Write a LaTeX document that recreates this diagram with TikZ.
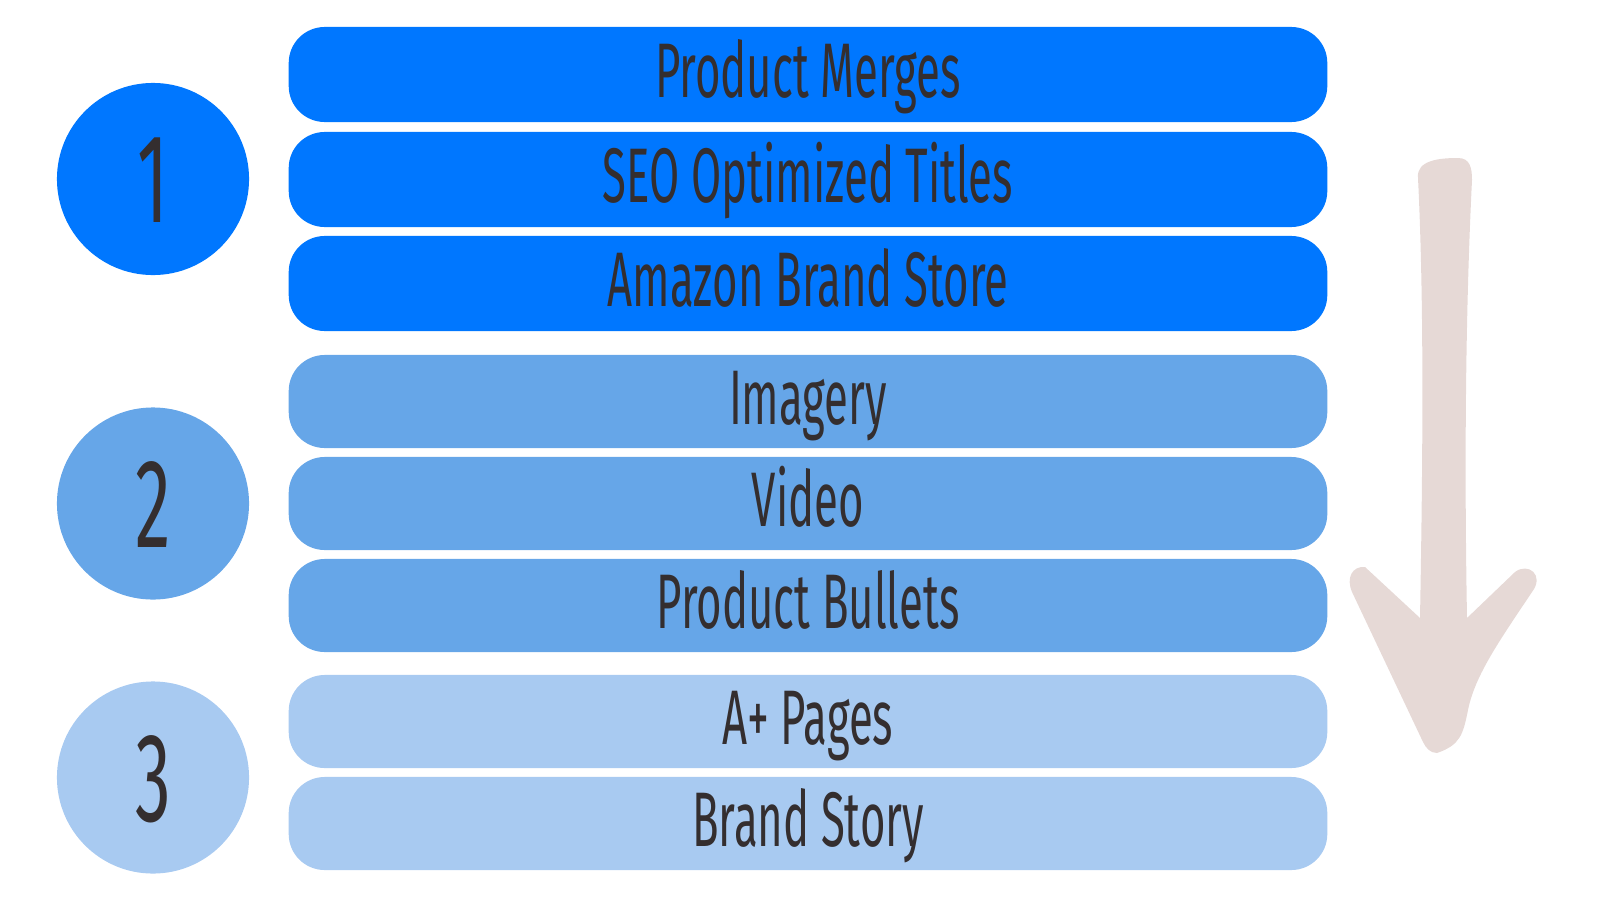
\documentclass[tikz,border=0pt]{standalone}
\usepackage{fontspec}
\setmainfont{Fira Sans}
\usepackage{graphicx}
\definecolor{stageone}{RGB}{0,119,255}
\definecolor{stagetwo}{RGB}{102,166,232}
\definecolor{stagethree}{RGB}{168,202,241}
\definecolor{arrowpink}{RGB}{230,217,214}
\definecolor{ink}{RGB}{52,46,47}
\newcommand{\narrow}[1]{\scalebox{0.565}[1]{#1}}
\begin{document}
\begin{tikzpicture}[x=0.01cm,y=-0.01cm,
    tier/.style={rounded corners=0.36cm,minimum width=10.38cm,minimum height=0.93cm,inner sep=0pt,
        text=ink,font=\fontsize{22}{22}\selectfont,text height=0.53cm,text depth=0.08cm},
    badge/.style={circle,minimum size=1.92cm,inner sep=0pt,text=ink,
        font=\fontsize{36}{36}\selectfont,text height=0.87cm,text depth=0cm}]
    \useasboundingbox (0,0) rectangle (1600,900);
    \node[badge,fill=stageone] (one) at (153,179) {\narrow{1}};
    \node[badge,fill=stagetwo] (two) at (153,503.5) {\narrow{2}};
    \node[badge,fill=stagethree] (three) at (153,777.5) {\narrow{3}};
    \node[tier,fill=stageone,minimum height=0.95cm] (merges) at (808,74.5) {\narrow{Product Merges}};
    \node[tier,fill=stageone,minimum height=0.95cm] (titles) at (808,179.5) {\narrow{SEO Optimized Titles}};
    \node[tier,fill=stageone,minimum height=0.95cm] (store) at (808,283.5) {\narrow{Amazon Brand Store}};
    \node[tier,fill=stagetwo] (imagery) at (808,401.5) {\narrow{Imagery}};
    \node[tier,fill=stagetwo] (video) at (808,503.5) {\narrow{Video}};
    \node[tier,fill=stagetwo] (bullets) at (808,605.5) {\narrow{Product Bullets}};
    \node[tier,fill=stagethree] (aplus) at (808,721.5) {\narrow{A+ Pages}};
    \node[tier,fill=stagethree] (story) at (808,823.5) {\narrow{Brand Story}};
    \fill[arrowpink] (1418,178) .. controls (1416,160) and (1440,158) .. (1458,158)
        .. controls (1470,158) and (1472,168) .. (1472,180)
        .. controls (1466,300) and (1464,450) .. (1467,618)
        -- (1515,572) .. controls (1528,562) and (1545,575) .. (1532,592)
        .. controls (1500,640) and (1475,675) .. (1468,710)
        .. controls (1463,735) and (1460,745) .. (1437,753)
        .. controls (1430,753) and (1426,748) .. (1423,742)
        -- (1352,592) .. controls (1346,578) and (1352,566) .. (1365,567)
        -- (1420,618)
        .. controls (1423,450) and (1424,300) .. (1418,178) -- cycle;
\end{tikzpicture}
\end{document}
